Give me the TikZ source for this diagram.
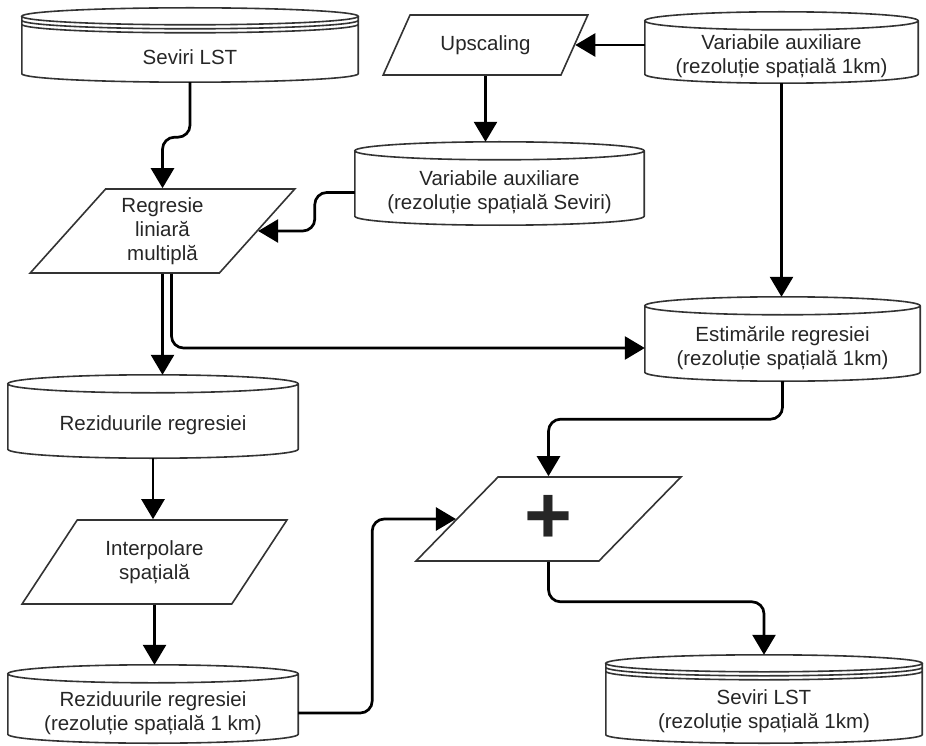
\documentclass[tikz,border=0pt]{standalone}
\usepackage{fontspec}
\setmainfont{Liberation Sans}
\usepackage{tikz}
\usetikzlibrary{arrows.meta, calc, shapes.geometric}
\tikzset{
    store/.style={rectangle, inner sep=0pt, align=center, minimum width=#1},
    process/.style={trapezium, trapezium left angle=51, trapezium right angle=129, trapezium stretches=true, draw=black!80, line width=1.6pt, fill=white, align=center, minimum width=265pt, minimum height=84pt, inner sep=0pt},
    outline/.style={draw=black!80, line width=1.6pt},
    flow/.style={draw=black, line width=2.7pt, -{Triangle[length=20pt,width=23pt]}, rounded corners=12pt},
    every node/.style={font=\fontsize{20.5}{24}\selectfont, text=black!85}
}

\begin{document}
\begin{tikzpicture}[x=1pt, y=1pt]
    \useasboundingbox (0,0) rectangle (926,-746);
    % data stores
    \node[store=336pt, minimum height=49pt] (lst) at (190,-57.5) {Seviri LST};
    \node[store=273pt, minimum height=53pt] (aux) at (781.5,-56.5) {Variabile auxiliare\\(rezoluție spațială 1km)};
    \node[store=289pt, minimum height=65pt] (vs) at (499.5,-192.5) {Variabile auxiliare\\(rezoluție spațială Seviri)};
    \node[store=275pt, minimum height=66pt] (est) at (782.5,-348) {Estimările regresiei\\(rezoluție spațială 1km)};
    \node[store=290pt, minimum height=65pt] (rr) at (153,-425.5) {Reziduurile regresiei};
    \node[store=290pt, minimum height=60pt] (rr1) at (153,-713) {Reziduurile regresiei\\(rezoluție spațială 1 km)};
    \node[store=316pt, minimum height=63pt] (out) at (764,-711.5) {Seviri LST\\(rezoluție spațială 1km)};
    % processing steps
    \node[process, minimum width=205pt, minimum height=60pt, trapezium left angle=50, trapezium right angle=130] (up) at (485.5,-45) {Upscaling};
    \node[process] (reg) at (162.5,-231) {Regresie\\liniară\\multiplă};
    \node[process] (interp) at (154.5,-562) {Interpolare\\spațială};
    \node[process, font=\fontsize{82}{82}\selectfont\bfseries] (plus) at (548.5,-519) {+};
    % cylinder outlines
    \foreach \s in {aux,vs,est,rr,rr1}{
        \draw[outline] let \p1=(\s.north west), \p2=(\s.south east), \n1={(\x2-\x1)/2} in
            (\x1,\y1+9) -- (\x1,\y2+9) arc[start angle=180, end angle=360, x radius=\n1, y radius=9pt] -- (\x2,\y1+9)
            (\x1+\n1,\y1+9) ellipse[x radius=\n1, y radius=9pt];
        \coordinate (\s-top) at ([yshift=18pt]\s.north);
    }
    % stacked disks
    \foreach \s in {lst,out}{
        \draw[outline] let \p1=(\s.north west), \p2=(\s.south east), \n1={(\x2-\x1)/2} in
            (\x1,\y1+16.5) -- (\x1,\y2+8.5) arc[start angle=180, end angle=360, x radius=\n1, y radius=8.5pt] -- (\x2,\y1+16.5)
            (\x1+\n1,\y1+16.5) ellipse[x radius=\n1, y radius=8.5pt]
            (\x1,\y1+12.5) arc[start angle=180, end angle=360, x radius=\n1, y radius=8.5pt]
            (\x1,\y1+8.5) arc[start angle=180, end angle=360, x radius=\n1, y radius=8.5pt];
        \coordinate (\s-top) at ([yshift=25pt]\s.north);
    }
    % connectors
    \draw[flow] (lst.south) -- ++(0,-55) -| (reg.north);
    \draw[flow] (aux.west |- up.right side) -- (up.right side);
    \draw[flow] (up.south) -- (up.south |- vs-top);
    \draw[flow] (vs.west) -- ++(-40,0) |- (reg.right side);
    \draw[flow] (aux.south) -- (aux.south |- est-top);
    \draw[flow] (reg.south) -- (reg.south |- rr-top);
    \draw[flow] ([xshift=9pt]reg.south) |- (est.west);
    \draw[flow] (rr.south) -- (rr.south |- interp.north);
    \draw[flow] (interp.south) -- (interp.south |- rr1-top);
    \draw[flow] (rr1.east) -- ++(74,0) |- (plus.left side);
    \draw[flow] (est.south) -- ++(0,-38) -| (plus.north);
    \draw[flow] (plus.south) -- ++(0,-40) -| (out-top);
\end{tikzpicture}
\end{document}
